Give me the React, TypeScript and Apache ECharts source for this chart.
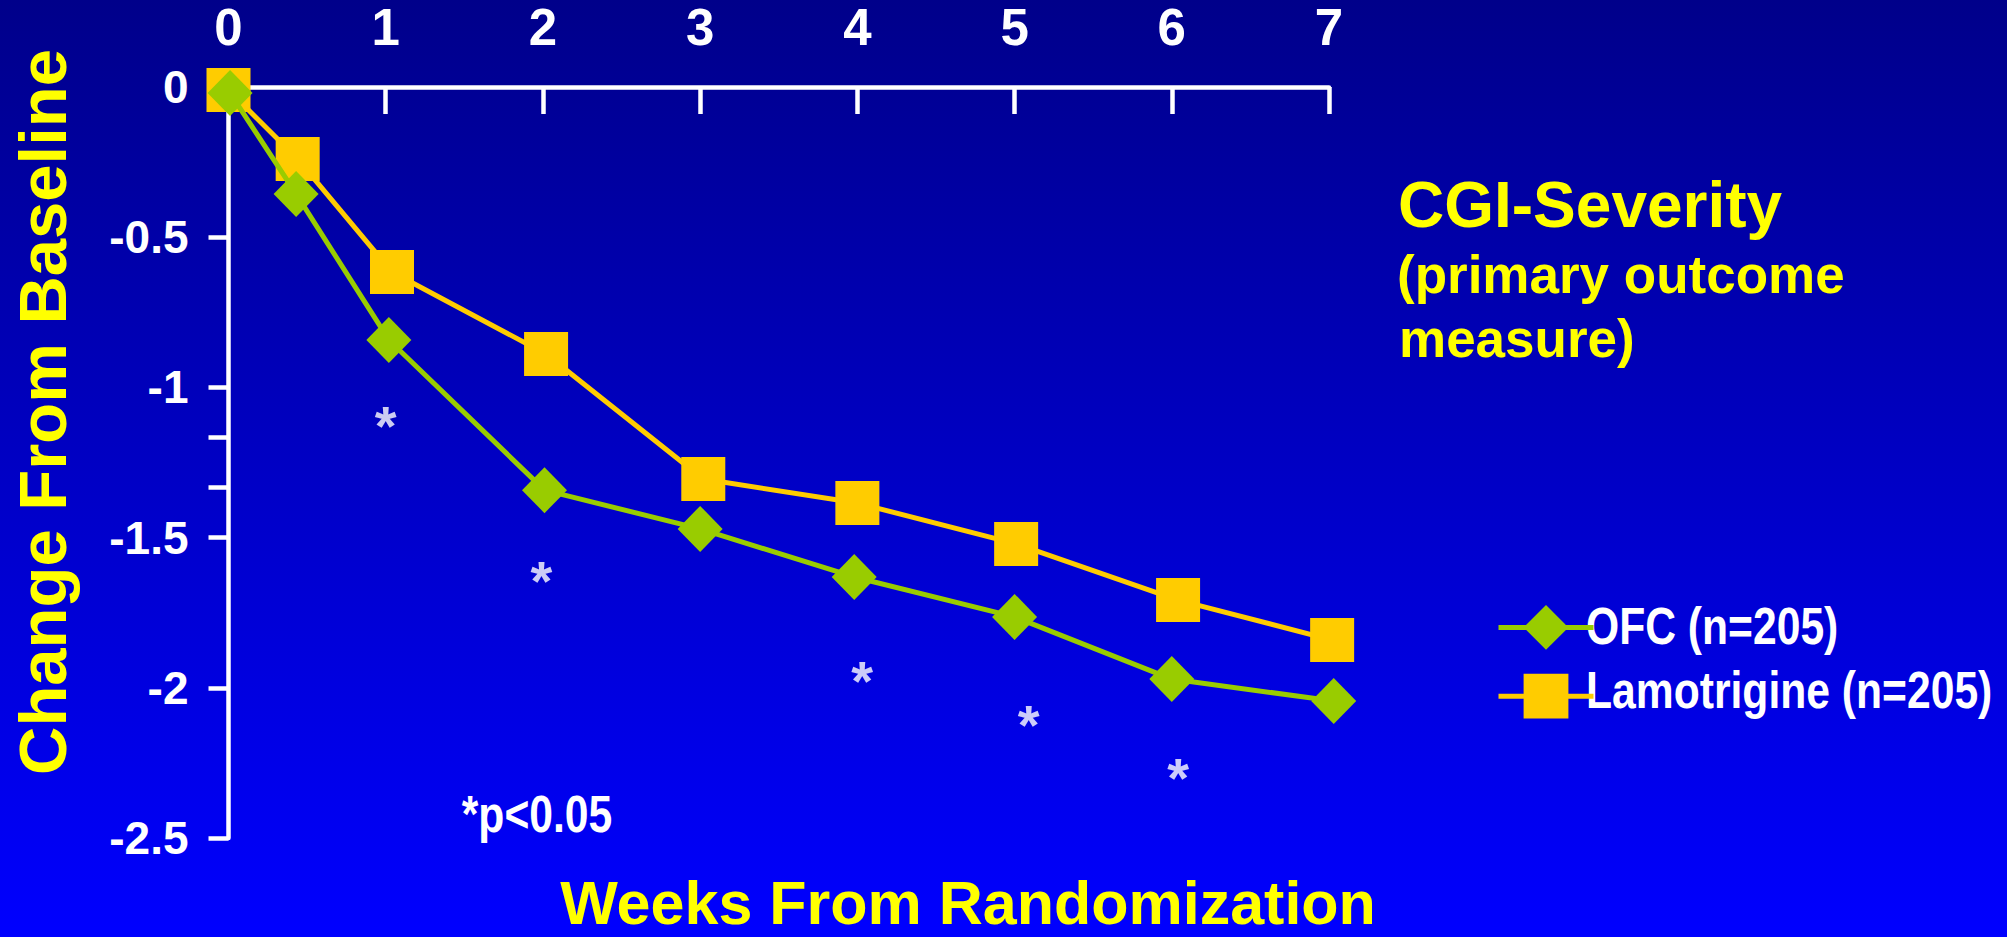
import React, { useEffect, useRef } from "react";
import * as echarts from "echarts";

// ---- data ----
const seriesNames = ["OFC (n=205)", "Lamotrigine (n=205)"];
const ofcWeeks = [0.01, 0.43, 1.02, 2.01, 3.0, 3.98, 5.0, 6.0, 7.03];
const ofcChange = [-0.02, -0.356, -0.842, -1.342, -1.471, -1.631, -1.764, -1.971, -2.044];
const lamoWeeks = [0, 0.44, 1.04, 2.02, 3.02, 4.0, 5.01, 6.04, 7.02];
const lamoChange = [-0.01, -0.24, -0.616, -0.889, -1.305, -1.385, -1.521, -1.708, -1.841];
const sigWeeks = [1.0, 1.99, 4.03, 5.09, 6.04];
const sigMarkY = [-1.082, -1.598, -1.934, -2.08, -2.254];
const yTickValues = [0, -0.5, -1, -1.1667, -1.3333, -1.5, -2, -2.5];
const xTickValues = [1, 2, 3, 4, 5, 6, 7];

const REG = "'Liberation Sans', Arial, sans-serif";
const NARROW_SCALE = 0.82;
const YELLOW = "#FFFF00";
const GREEN = "#99CC00";
const GOLD = "#FFCC00";

export default function App() {
  const ref = useRef<HTMLDivElement>(null);
  useEffect(() => {
    if (!ref.current) return;
    const chart = echarts.init(ref.current, undefined, { renderer: "svg" });
    const narrowText = (text: string, x: number, y: number, align: string, size: number) => ({
      type: "text",
      x,
      y,
      scaleX: NARROW_SCALE,
      style: { text, fill: "#fff", fontSize: size, fontWeight: "bold", fontFamily: REG, textAlign: align, textVerticalAlign: "middle" },
    });
    const option: any = {
      animation: false,
      backgroundColor: "transparent",
      grid: { left: 228.5, top: 87, width: 1100.5, height: 751, containLabel: false },
      xAxis: {
        type: "value",
        position: "top",
        min: 0,
        max: 7,
        interval: 1,
        axisLine: { show: true, onZero: false, lineStyle: { color: "#fff", width: 4.5 } },
        axisTick: { show: true, inside: true, length: 27, customValues: xTickValues, lineStyle: { color: "#fff", width: 4.5 } },
        axisLabel: { color: "#fff", fontSize: 51, fontWeight: "bold", fontFamily: REG, margin: 34, lineHeight: 51 },
        splitLine: { show: false },
      },
      yAxis: {
        type: "value",
        min: -2.5,
        max: 0,
        interval: 0.5,
        axisLine: { show: true, onZero: false, lineStyle: { color: "#fff", width: 4.5 } },
        axisTick: { show: true, inside: false, length: 20, customValues: yTickValues, lineStyle: { color: "#fff", width: 4.5 } },
        axisLabel: { color: "#fff", fontSize: 46, fontWeight: "bold", fontFamily: REG, margin: 40, padding: [0, 0, 7, 0] },
        splitLine: { show: false },
      },
      legend: {
        data: seriesNames,
        orient: "vertical",
        left: 1491,
        top: 600,
        itemWidth: 95,
        itemHeight: 56,
        itemGap: 24,
        selectedMode: false,
        formatter: () => "",
        lineStyle: { width: 5 },
        textStyle: { color: "#fff", fontSize: 52, fontWeight: "bold", fontFamily: REG, lineHeight: 56 },
      },
      series: [
        {
          name: seriesNames[1],
          type: "line",
          data: lamoWeeks.map((w, i) => [w, lamoChange[i]]),
          symbol: "rect",
          symbolSize: 44,
          lineStyle: { color: GOLD, width: 5 },
          itemStyle: { color: GOLD },
          z: 2,
          clip: false,
        },
        {
          name: seriesNames[0],
          type: "line",
          data: ofcWeeks.map((w, i) => [w, ofcChange[i]]),
          symbol: "diamond",
          symbolSize: [45, 46],
          lineStyle: { color: GREEN, width: 5 },
          itemStyle: { color: GREEN },
          z: 3,
          clip: false,
        },
        {
          type: "scatter",
          data: sigWeeks.map((w, i) => [w, sigMarkY[i]]),
          symbolSize: 1,
          itemStyle: { color: "rgba(0,0,0,0)" },
          silent: true,
          label: {
            show: true,
            position: "inside",
            formatter: "*",
            color: "#fff",
            fontSize: 56,
            fontWeight: "bold",
            fontFamily: REG,
            offset: [0, 13],
          },
          z: 4,
        },
      ],
      graphic: [
        {
          type: "text",
          x: 42,
          y: 412,
          rotation: Math.PI / 2,
          style: { text: "Change From Baseline", fill: YELLOW, fontSize: 67, fontWeight: "bold", fontFamily: REG, textAlign: "center", textVerticalAlign: "middle" },
        },
        {
          type: "text",
          x: 968,
          y: 903,
          style: { text: "Weeks From Randomization", fill: YELLOW, fontSize: 61, fontWeight: "bold", fontFamily: REG, textAlign: "center", textVerticalAlign: "middle" },
        },
        {
          type: "text",
          x: 1398,
          y: 205,
          style: { text: "CGI-Severity", fill: YELLOW, fontSize: 64, fontWeight: "bold", fontFamily: REG, textAlign: "left", textVerticalAlign: "middle" },
        },
        {
          type: "text",
          x: 1397,
          y: 274.5,
          style: { text: "(primary outcome", fill: YELLOW, fontSize: 53, fontWeight: "bold", fontFamily: REG, textAlign: "left", textVerticalAlign: "middle" },
        },
        {
          type: "text",
          x: 1399,
          y: 338.5,
          style: { text: "measure)", fill: YELLOW, fontSize: 53, fontWeight: "bold", fontFamily: REG, textAlign: "left", textVerticalAlign: "middle" },
        },
        narrowText("*p<0.05", 537, 814, "center", 52),
        narrowText(seriesNames[0], 1586, 626, "left", 52),
        narrowText(seriesNames[1], 1586, 690, "left", 52),
      ],
    };
    chart.setOption(option);
    return () => chart.dispose();
  }, []);
  return (
    <div
      ref={ref}
      style={{
        position: "fixed",
        left: 0,
        top: 0,
        width: "2007px",
        height: "937px",
        background: "linear-gradient(to bottom, #00008A 0%, #0000FF 100%)",
      }}
    />
  );
}
